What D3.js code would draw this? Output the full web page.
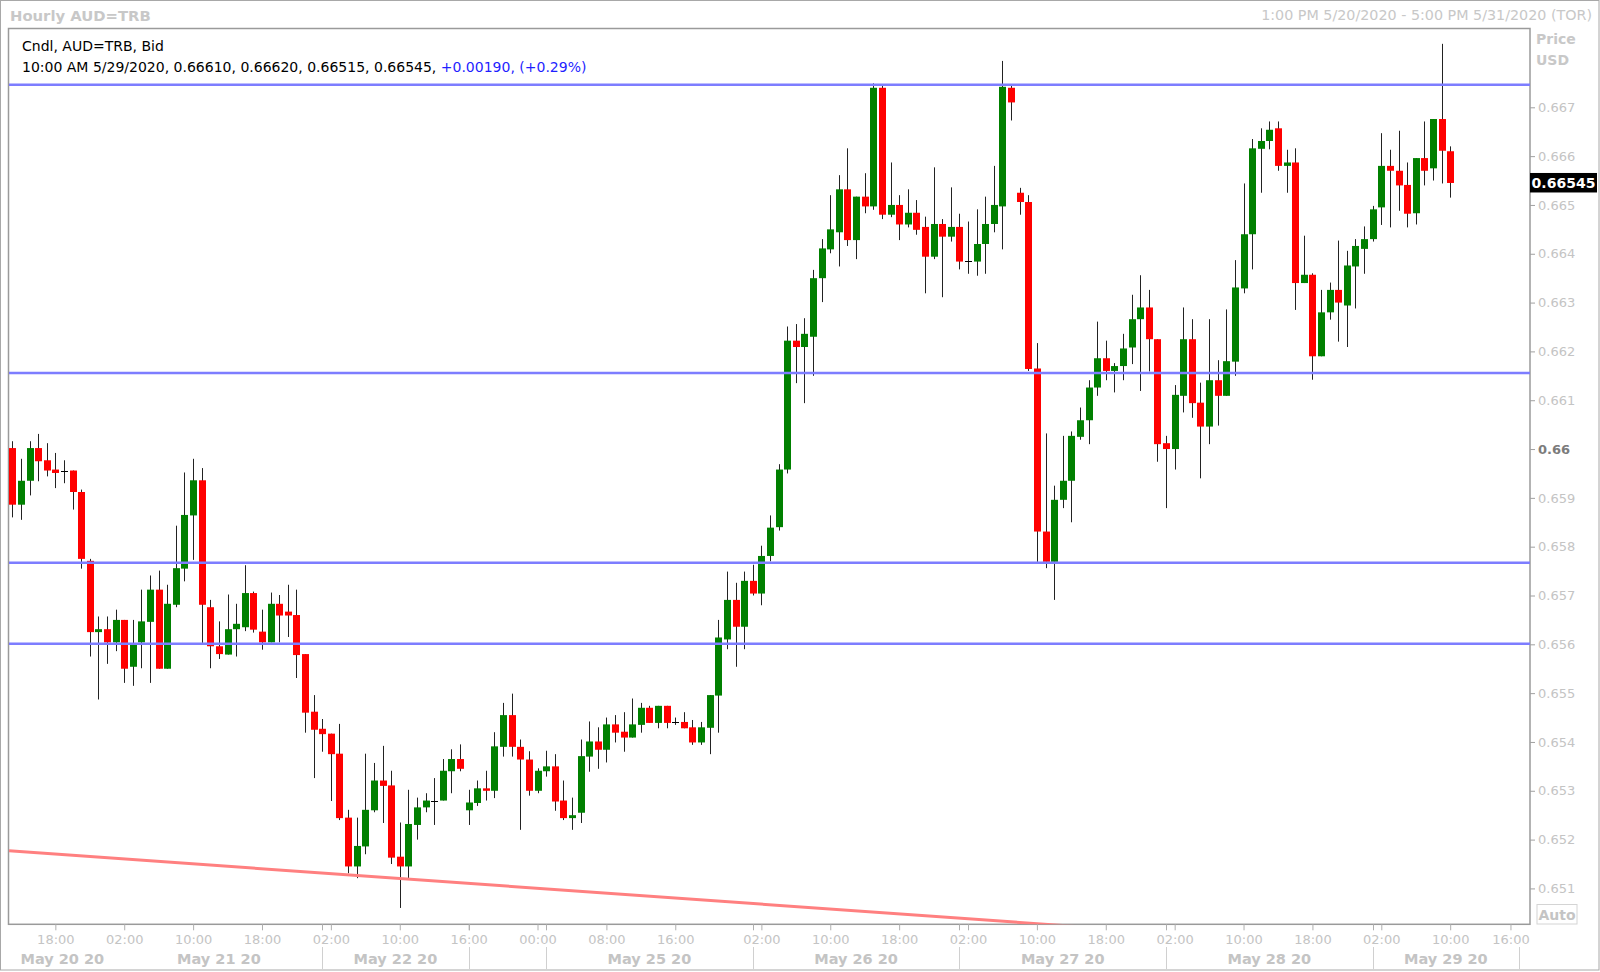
<!DOCTYPE html>
<html><head><meta charset="utf-8">
<script src="https://cdn.jsdelivr.net/npm/d3@7"></script>
<style>
html,body{margin:0;padding:0;background:#fff;}
svg{display:block;font-family:"DejaVu Sans",Verdana,sans-serif;}
</style></head><body>
<svg id="c" width="1600" height="972"></svg>
<script>
// ---- data: hourly AUD=TRB candles, bar index 0 = 1:00 PM 5/20/2020 ----
const opens = [
0.66002,0.65886,0.65935,0.66002,0.65977,0.65958,0.65956,0.65956,0.65912,0.65771,
0.65625,0.65631,0.65604,0.65650,0.65554,0.65604,0.65646,0.65712,0.65550,0.65681,
0.65755,0.65864,0.65936,0.65676,0.65596,0.65579,0.65631,0.65635,0.65705,0.65626,
0.65604,0.65683,0.65667,0.65660,0.65580,0.65462,0.65427,0.65417,0.65376,0.65245,
0.65145,0.65186,0.65260,0.65321,0.65311,0.65165,0.65145,0.65230,0.65266,0.65280,
0.65280,0.65340,0.65365,0.65260,0.65275,0.65305,0.65300,0.65390,0.65455,0.65390,
0.65364,0.65300,0.65340,0.65350,0.65280,0.65244,0.65255,0.65370,0.65401,0.65384,
0.65436,0.65421,0.65409,0.65435,0.65470,0.65439,0.65474,0.65441,0.65441,0.65430,
0.65399,0.65429,0.65495,0.65610,0.65691,0.65636,0.65730,0.65704,0.65781,0.65840,
0.65958,0.66222,0.66209,0.66230,0.66350,0.66409,0.66444,0.66532,0.66428,0.66517,
0.66497,0.66740,0.66480,0.66500,0.66460,0.66484,0.66455,0.66394,0.66461,0.66435,
0.66455,0.66385,0.66384,0.66420,0.66461,0.66497,0.66740,0.66525,0.66506,0.66165,
0.65831,0.65769,0.65896,0.65935,0.66025,0.66059,0.66126,0.66186,0.66160,0.66170,
0.66208,0.66266,0.66290,0.66225,0.66012,0.66000,0.66109,0.66225,0.66095,0.66046,
0.66141,0.66109,0.66179,0.66329,0.66440,0.66615,0.66631,0.66657,0.66580,0.66587,
0.66340,0.66357,0.66190,0.66280,0.66326,0.66294,0.66374,0.66410,0.66430,0.66495,
0.66580,0.66570,0.66541,0.66483,0.66596,0.66575,0.66676,0.66610];
const highs = [
0.66016,0.65980,0.66016,0.66031,0.66012,0.65992,0.65977,0.65956,0.65917,0.65775,
0.65657,0.65657,0.65671,0.65650,0.65650,0.65712,0.65741,0.65751,0.65722,0.65843,
0.65952,0.65980,0.65961,0.65691,0.65647,0.65702,0.65683,0.65762,0.65708,0.65671,
0.65706,0.65701,0.65722,0.65712,0.65580,0.65496,0.65447,0.65417,0.65437,0.65261,
0.65245,0.65376,0.65357,0.65392,0.65341,0.65235,0.65302,0.65286,0.65295,0.65326,
0.65365,0.65385,0.65395,0.65302,0.65321,0.65341,0.65420,0.65480,0.65499,0.65405,
0.65381,0.65346,0.65382,0.65375,0.65321,0.65286,0.65405,0.65442,0.65430,0.65450,
0.65455,0.65461,0.65489,0.65480,0.65474,0.65474,0.65474,0.65450,0.65461,0.65445,
0.65441,0.65496,0.65650,0.65749,0.65726,0.65749,0.65763,0.65802,0.65864,0.65969,
0.66251,0.66256,0.66268,0.66367,0.66430,0.66520,0.66561,0.66616,0.66517,0.66565,
0.66749,0.66744,0.66587,0.66520,0.66532,0.66510,0.66476,0.66577,0.66471,0.66536,
0.66482,0.66466,0.66491,0.66517,0.66580,0.66795,0.66745,0.66535,0.66520,0.66217,
0.66032,0.65925,0.66027,0.66036,0.66085,0.66141,0.66261,0.66222,0.66176,0.66236,
0.66316,0.66356,0.66326,0.66225,0.66027,0.66131,0.66290,0.66266,0.66136,0.66266,
0.66182,0.66286,0.66387,0.66544,0.66635,0.66657,0.66671,0.66671,0.66613,0.66616,
0.66437,0.66360,0.66326,0.66341,0.66427,0.66406,0.66430,0.66456,0.66498,0.66647,
0.66613,0.66652,0.66587,0.66596,0.66671,0.66676,0.66830,0.66620];
const lows = [
0.65860,0.65855,0.65905,0.65934,0.65944,0.65920,0.65930,0.65876,0.65755,0.65575,
0.65487,0.65560,0.65586,0.65521,0.65515,0.65551,0.65521,0.65550,0.65550,0.65676,
0.65729,0.65773,0.65603,0.65551,0.65570,0.65579,0.65575,0.65627,0.65624,0.65589,
0.65604,0.65604,0.65615,0.65531,0.65419,0.65326,0.65380,0.65279,0.65240,0.65131,
0.65121,0.65170,0.65256,0.65234,0.65150,0.65060,0.65121,0.65200,0.65256,0.65230,
0.65280,0.65295,0.65340,0.65230,0.65269,0.65280,0.65285,0.65370,0.65370,0.65220,
0.65290,0.65295,0.65329,0.65259,0.65240,0.65220,0.65234,0.65339,0.65345,0.65358,
0.65399,0.65380,0.65409,0.65419,0.65439,0.65428,0.65428,0.65435,0.65428,0.65394,
0.65394,0.65375,0.65419,0.65590,0.65554,0.65590,0.65700,0.65680,0.65770,0.65833,
0.65950,0.66135,0.66094,0.66150,0.66301,0.66401,0.66374,0.66416,0.66389,0.66483,
0.66490,0.66471,0.66475,0.66428,0.66454,0.66439,0.66319,0.66389,0.66311,0.66425,
0.66368,0.66359,0.66355,0.66359,0.66444,0.66409,0.66673,0.66480,0.66160,0.65769,
0.65756,0.65691,0.65879,0.65850,0.66019,0.66010,0.66109,0.66141,0.66116,0.66141,
0.66174,0.66119,0.66159,0.65974,0.65879,0.65958,0.66075,0.66064,0.65940,0.66010,
0.66048,0.66109,0.66150,0.66319,0.66368,0.66525,0.66614,0.66570,0.66525,0.66285,
0.66340,0.66142,0.66190,0.66265,0.66220,0.66209,0.66288,0.66359,0.66425,0.66459,
0.66454,0.66488,0.66454,0.66460,0.66540,0.66550,0.66544,0.66515];
const closes = [
0.65886,0.65935,0.66002,0.65975,0.65956,0.65951,0.65956,0.65912,0.65775,0.65625,
0.65631,0.65604,0.65650,0.65550,0.65599,0.65647,0.65712,0.65550,0.65683,0.65756,
0.65865,0.65936,0.65681,0.65596,0.65580,0.65631,0.65642,0.65705,0.65630,0.65604,
0.65683,0.65659,0.65659,0.65578,0.65460,0.65425,0.65416,0.65375,0.65244,0.65145,
0.65187,0.65261,0.65321,0.65310,0.65163,0.65145,0.65232,0.65266,0.65280,0.65280,
0.65341,0.65365,0.65345,0.65276,0.65305,0.65300,0.65391,0.65455,0.65390,0.65364,
0.65300,0.65341,0.65350,0.65278,0.65244,0.65250,0.65371,0.65401,0.65384,0.65436,
0.65419,0.65409,0.65436,0.65470,0.65439,0.65474,0.65439,0.65441,0.65428,0.65399,
0.65430,0.65496,0.65614,0.65691,0.65636,0.65730,0.65704,0.65781,0.65839,0.65958,
0.66222,0.66209,0.66236,0.66350,0.66411,0.66450,0.66532,0.66428,0.66517,0.66497,
0.66740,0.66480,0.66500,0.66460,0.66484,0.66449,0.66394,0.66461,0.66435,0.66455,
0.66384,0.66385,0.66420,0.66461,0.66500,0.66742,0.66710,0.66506,0.66164,0.65831,
0.65769,0.65896,0.65935,0.66027,0.66059,0.66126,0.66186,0.66160,0.66170,0.66206,
0.66266,0.66290,0.66225,0.66010,0.66000,0.66111,0.66225,0.66094,0.66046,0.66141,
0.66109,0.66180,0.66331,0.66440,0.66616,0.66631,0.66654,0.66580,0.66587,0.66340,
0.66357,0.66190,0.66280,0.66326,0.66300,0.66376,0.66416,0.66430,0.66491,0.66580,
0.66570,0.66540,0.66482,0.66596,0.66570,0.66676,0.66611,0.66545];

// horizontal support / resistance levels
const levels = [0.66746, 0.66156, 0.65767, 0.65601];
// falling trend line (bar index, price)
const trendIdx = [-0.383, 130];
const trendPrice = [0.65177, 0.65014];

// y ticks
const yTicks = [0.651,0.652,0.653,0.654,0.655,0.656,0.657,0.658,0.659,0.660,0.661,0.662,0.663,0.664,0.665,0.666,0.667];
// time ticks (bar index -> label)
const tickIdx = [5,13,21,29,37,45,53,61,69,77,87,95,103,111,119,127,135,143,151,159,167,174];
const tickLabels = ["18:00","02:00","10:00","18:00","02:00","10:00","16:00","00:00","08:00","16:00",
  "02:00","10:00","18:00","02:00","10:00","18:00","02:00","10:00","18:00","02:00","10:00","16:00"];
// day separators and date labels
const daySeps = [36,53,62,86,110,134,158,175];
const dayLabels = ["May 20 20","May 21 20","May 22 20","May 25 20","May 26 20","May 27 20","May 28 20","May 29 20"];
const dayFrom = [-0.383,12,36,62,86,110,134,158];
const dayTo   = [12,36,53,86,110,134,158,175];

const lastPrice = 0.66545;

// ---- drawing ----
const svg = d3.select("#c");
const PL=9, PR=1530, PT=29, PB=924.3;
const x = d3.scaleLinear().domain([-0.383,176.27]).range([PL,PR]);
const y = d3.scaleLinear().domain([0.650265,0.668604]).range([PB,PT]);
const LG = "#c4c4c4";

// outer frame
svg.append("rect").attr("x",0.5).attr("y",0.5).attr("width",1598.5).attr("height",969.5)
  .attr("fill","#fff").attr("stroke","#a8a8a8");

// header texts
svg.append("text").attr("x",10).attr("y",15).attr("dominant-baseline","central")
  .attr("font-size",14.8).attr("font-weight","bold").attr("fill","#c8c8c8").text("Hourly AUD=TRB");
svg.append("text").attr("x",1592).attr("y",15).attr("dominant-baseline","central").attr("text-anchor","end")
  .attr("font-size",14.3).attr("fill","#c8c8c8").text("1:00 PM 5/20/2020 - 5:00 PM 5/31/2020 (TOR)");

// plot frame
svg.append("rect").attr("x",PL-0.5).attr("y",PT-0.5).attr("width",PR-PL+0.5).attr("height",PB-PT+0.5)
  .attr("fill","#fff").attr("stroke","#9a9a9a").attr("stroke-width",1.5);

svg.append("clipPath").attr("id","clip").append("rect")
  .attr("x",PL).attr("y",PT).attr("width",PR-PL).attr("height",PB-PT);
const gp = svg.append("g").attr("clip-path","url(#clip)");

const data = d3.range(opens.length).map(i=>({i,o:opens[i],h:highs[i],l:lows[i],c:closes[i]}));

gp.selectAll("line.wick").data(data).join("line").attr("class","wick")
  .attr("x1",d=>Math.round(x(d.i))+0.5).attr("x2",d=>Math.round(x(d.i))+0.5)
  .attr("y1",d=>y(d.h)).attr("y2",d=>y(d.l))
  .attr("stroke","#222").attr("stroke-width",1);

gp.selectAll("rect.body").data(data).join("rect").attr("class","body")
  .attr("x",d=>Math.round(x(d.i))-3)
  .attr("width",7)
  .attr("y",d=>d.o===d.c ? Math.round(y(d.o)) : y(Math.max(d.o,d.c)))
  .attr("height",d=>d.o===d.c ? 1 : Math.max(1,Math.abs(y(d.o)-y(d.c))))
  .attr("fill",d=>d.c>d.o?"#008000":(d.c<d.o?"#ff0000":"#000"));

// levels
gp.selectAll("line.lvl").data(levels).join("line").attr("class","lvl")
  .attr("x1",PL).attr("x2",PR).attr("y1",d=>y(d)).attr("y2",d=>y(d))
  .attr("stroke","#7d7dff").attr("stroke-width",2.5);

// trend line
gp.append("path").datum(trendIdx.map((t,k)=>[t,trendPrice[k]]))
  .attr("d",d3.line().x(d=>x(d[0])).y(d=>y(d[1])))
  .attr("fill","none").attr("stroke","#ff8080").attr("stroke-width",3);

// legend text in plot
svg.append("text").attr("x",22).attr("y",46).attr("dominant-baseline","central")
  .attr("font-size",14).attr("fill","#000").text("Cndl, AUD=TRB, Bid");
const t2 = svg.append("text").attr("x",22).attr("y",67).attr("dominant-baseline","central").attr("font-size",14);
const lastIdx = closes.length-1;
t2.append("tspan").attr("fill","#000")
  .text("10:00 AM 5/29/2020, "+[opens[lastIdx],highs[lastIdx],lows[lastIdx],closes[lastIdx]].map(v=>v.toFixed(5)).join(", ")+", ");
t2.append("tspan").attr("fill","#1f1fff").text("+0.00190, (+0.29%)");

// y axis
const ya = svg.append("g").attr("transform",`translate(${PR},0)`)
  .call(d3.axisRight(y).tickValues(yTicks).tickSize(5).tickPadding(3)
    .tickFormat(d=>Math.abs(d-0.66)<1e-9?"0.66":d3.format(".3f")(d)));
ya.select(".domain").remove();
ya.selectAll(".tick line").attr("stroke","#a0a0a0");
ya.selectAll(".tick text").attr("font-family","DejaVu Sans").attr("font-size",13).attr("fill",LG)
  .filter(d=>Math.abs(d-0.66)<1e-9).attr("font-weight","bold").attr("fill","#7c7c7c");

svg.append("text").attr("x",1536).attr("y",39).attr("dominant-baseline","central")
  .attr("font-size",14).attr("font-weight","bold").attr("fill","#c8c8c8").text("Price");
svg.append("text").attr("x",1536).attr("y",60).attr("dominant-baseline","central")
  .attr("font-size",14).attr("font-weight","bold").attr("fill","#c8c8c8").text("USD");

// last price box
const yl = y(lastPrice);
svg.append("rect").attr("x",PR).attr("y",yl-10).attr("width",67).attr("height",19.5).attr("fill","#000");
svg.append("text").attr("x",PR+33.5).attr("y",yl).attr("dominant-baseline","central").attr("text-anchor","middle")
  .attr("font-size",14).attr("font-weight","bold").attr("fill","#fff").text(d3.format(".5f")(lastPrice));

// Auto box
svg.append("rect").attr("x",1537).attr("y",904.5).attr("width",40).attr("height",19.5)
  .attr("fill","#fff").attr("stroke","#d4d4d4");
svg.append("text").attr("x",1557).attr("y",914.5).attr("dominant-baseline","central").attr("text-anchor","middle")
  .attr("font-size",14).attr("font-weight","bold").attr("fill","#c4c4c4").text("Auto");

// x axis
const xa = svg.append("g").attr("transform",`translate(0,${PB})`)
  .call(d3.axisBottom(x).tickValues(tickIdx).tickSize(6).tickPadding(4).tickFormat((d,i)=>tickLabels[i]));
xa.select(".domain").remove();
xa.selectAll(".tick line").attr("stroke","#b0b0b0");
xa.selectAll(".tick text").attr("font-family","DejaVu Sans").attr("font-size",13).attr("fill",LG);

// extra tick marks at day boundaries
svg.selectAll("line.dtick").data(daySeps.slice(0,-1)).join("line").attr("class","dtick")
  .attr("x1",d=>Math.round(x(d))+0.5).attr("x2",d=>Math.round(x(d))+0.5)
  .attr("y1",PB).attr("y2",PB+6).attr("stroke","#b0b0b0");

// date row
svg.selectAll("line.dsep").data(daySeps).join("line").attr("class","dsep")
  .attr("x1",d=>Math.round(x(d))+0.5).attr("x2",d=>Math.round(x(d))+0.5)
  .attr("y1",947).attr("y2",969).attr("stroke","#d0d0d0");
svg.selectAll("text.dlab").data(dayLabels).join("text").attr("class","dlab")
  .attr("x",(d,i)=>(x(dayFrom[i])+x(dayTo[i]))/2).attr("y",959)
  .attr("dominant-baseline","central").attr("text-anchor","middle")
  .attr("font-size",14.5).attr("font-weight","bold").attr("fill",LG).text(d=>d);
</script>
</body></html>
